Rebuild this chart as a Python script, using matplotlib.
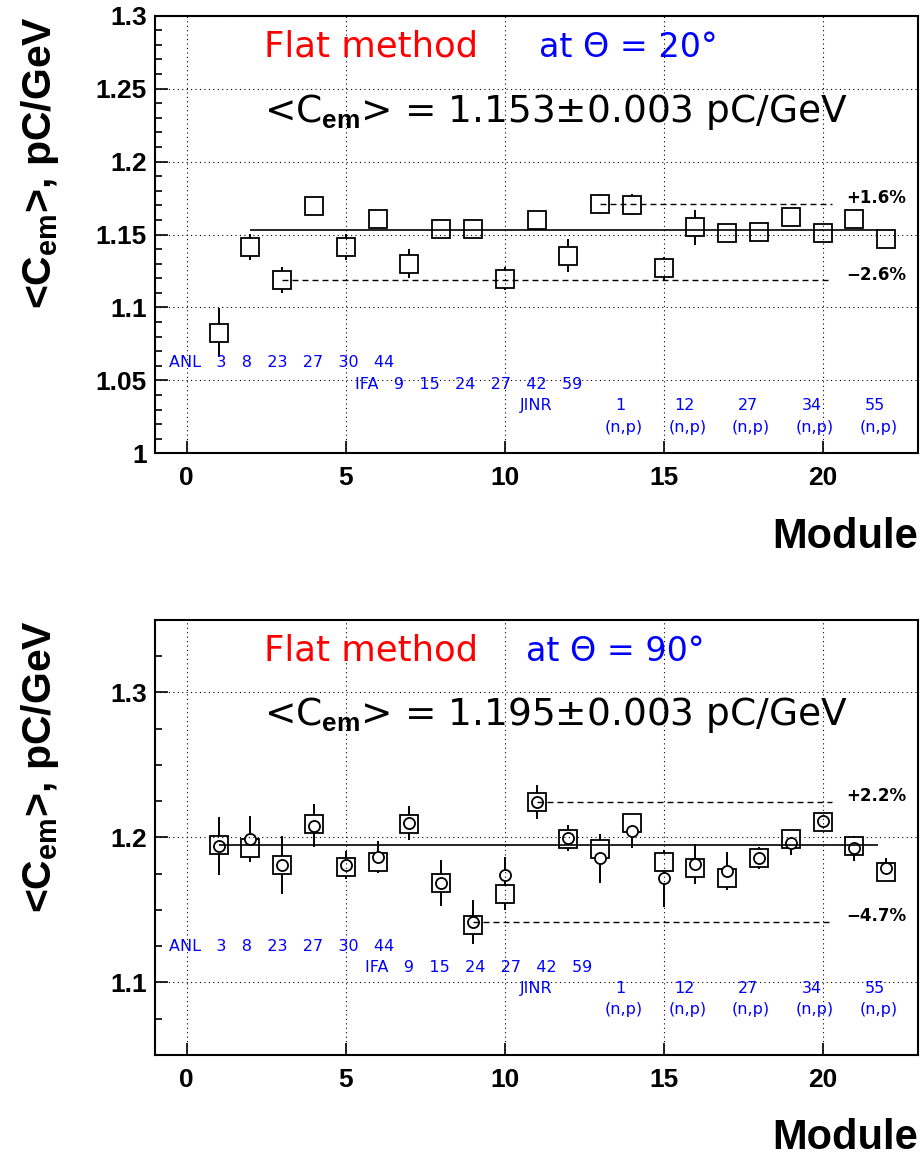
import numpy as np
import matplotlib
matplotlib.use("Agg")
import matplotlib.pyplot as plt
from matplotlib.ticker import MultipleLocator, FuncFormatter

plt.rcParams["font.family"] = "Liberation Sans"
plt.rcParams["font.weight"] = "bold"
plt.rcParams["mathtext.fontset"] = "custom"
plt.rcParams["mathtext.rm"] = "Liberation Sans"
plt.rcParams["mathtext.bf"] = "Liberation Sans:bold"

modules = np.arange(1, 23)

# Theta = 20 deg, flat method
cem20 = [1.0827, 1.1416, 1.1187, 1.1697, 1.1416, 1.1607, 1.1299, 1.1536,
         1.1536, 1.1197, 1.1596, 1.1356, 1.1710, 1.1705, 1.1267, 1.1548,
         1.1507, 1.1516, 1.1619, 1.1507, 1.1607, 1.1466]
cem20_err = [0.017, 0.009, 0.009, 0.004, 0.009, 0.0055, 0.010, 0.003,
             0.003, 0.008, 0.004, 0.011, 0.007, 0.007, 0.008, 0.0118,
             0.004, 0.004, 0.004, 0.004, 0.004, 0.004]
mean20 = 1.153
fit20 = (2, 21.75)
pct20 = ["+1.6%", "\u22122.6%"]

# Theta = 90 deg, flat method (squares and circles)
cem90_sq = [1.1947, 1.1928, 1.1809, 1.2090, 1.1797, 1.1828, 1.2092, 1.1687,
            1.1397, 1.1609, 1.2241, 1.1988, 1.1917, 1.2101, 1.1830, 1.1790,
            1.1717, 1.1859, 1.1988, 1.2103, 1.1940, 1.1759]
cem90_sq_err = [0.004, 0.004, 0.004, 0.004, 0.004, 0.004, 0.004, 0.004,
                0.004, 0.011, 0.004, 0.004, 0.004, 0.004, 0.004, 0.004,
                0.004, 0.004, 0.004, 0.004, 0.004, 0.004]
cem90_ci = [1.1942, 1.1988, 1.1809, 1.2080, 1.1809, 1.1866, 1.2101, 1.1687,
            1.1416, 1.1740, 1.2246, 1.1993, 1.1855, 1.2043, 1.1717, 1.1814,
            1.1770, 1.1859, 1.1963, 1.2112, 1.1924, 1.1790]
cem90_ci_err = [0.0199, 0.0159, 0.0198, 0.0150, 0.0099, 0.0110, 0.0117, 0.0159,
                0.0155, 0.0125, 0.0117, 0.0090, 0.0169, 0.0114, 0.0195, 0.0138,
                0.0130, 0.0076, 0.0088, 0.0040, 0.0088, 0.0070]
mean90 = 1.195
fit90 = (1, 21.75)
pct90 = ["+2.2%", "\u22124.7%"]

anl_ids = ["3", "8", "23", "27", "30", "44"]
ifa_ids = ["9", "15", "24", "27", "42", "59"]
jinr_ids = ["1", "12", "27", "34", "55"]

RED = "#ff0000"
BLUE = "#0000ff"


def setup_axes(ax, ylo, yhi, major, minor):
    ax.set_xlim(-1, 23)
    ax.set_ylim(ylo, yhi)
    ax.xaxis.set_major_locator(MultipleLocator(5))
    ax.yaxis.set_major_locator(MultipleLocator(major))
    ax.yaxis.set_minor_locator(MultipleLocator(minor))
    ax.yaxis.set_major_formatter(FuncFormatter(lambda v, p: f"{v:g}"))
    ax.tick_params(which="both", direction="in", top=False, right=False, width=1.2)
    ax.tick_params(which="major", length=9)
    ax.tick_params(which="minor", length=5)
    ax.tick_params(axis="x", pad=9.5, labelsize=19)
    ax.tick_params(axis="y", pad=6, labelsize=19)
    for s in ax.spines.values():
        s.set_linewidth(1.5)
    ax.set_axisbelow(False)
    ax.grid(True, which="major", linestyle=(0, (1, 3)), color="black", lw=0.8)


def draw_frame_text(ax, theta_txt, theta_x, mean_txt):
    ax.text(0.143, 0.906, "Flat method", transform=ax.transAxes, color=RED,
            fontsize=25.5, family="DejaVu Sans", weight="normal")
    ax.text(theta_x, 0.906, theta_txt, transform=ax.transAxes, color=BLUE,
            fontsize=24, family="DejaVu Sans", weight="normal")
    ax.text(0.143, 0.758, r"<C$_{\mathbf{em}}$> = " + mean_txt, transform=ax.transAxes,
            color="black", fontsize=27, family="DejaVu Sans", weight="normal")
    ax.text(-0.1507, 1.0, r"<C$_{\mathbf{em}}$>, pC/GeV", transform=ax.transAxes,
            rotation=90, ha="center", va="top", fontsize=29.5, weight="bold")
    ax.text(1.0, -0.2164, "Module", transform=ax.transAxes, ha="right",
            va="baseline", fontsize=30, weight="bold")


def draw_labels(ax, y0, step, ifa_x):
    kw = dict(color=BLUE, fontsize=11.5, family="DejaVu Sans", weight="normal", va="center")
    ax.text(-0.57, y0, "   ".join(["ANL"] + anl_ids), ha="left", **kw)
    ax.text(ifa_x, y0 - step, "   ".join(["IFA"] + ifa_ids), ha="left", **kw)
    ax.text(11.0, y0 - 2 * step, "JINR", ha="center", **kw)
    pair_x = modules[12::2] + 0.65
    for x, lab in zip(pair_x, jinr_ids):
        ax.text(x, y0 - 2 * step, lab, ha="center", **kw)
        ax.text(x + 0.1, y0 - 3 * step, "(n,p)", ha="center", **kw)


def draw_spread(ax, vals, fit, pcts):
    vals = np.asarray(vals)
    inside = modules >= fit[0]
    hi_i = np.argmax(np.where(inside, vals, -np.inf))
    lo_i = np.argmin(np.where(inside, vals, np.inf))
    for i, lab in zip([hi_i, lo_i], pcts):
        ax.hlines(vals[i], modules[i], 20.3, colors="black", lw=1.0,
                  linestyles=(0, (4.3, 2.9)), zorder=3)
        ax.annotate(lab, xy=(20.75, vals[i]), xytext=(0, 4), textcoords="offset points",
                    ha="left", va="center", fontsize=12, family="DejaVu Sans", weight="bold")


fig = plt.figure(figsize=(9.23, 11.57), dpi=100)
ax1 = fig.add_axes([155 / 923, 1 - 453.3 / 1157, 763 / 923, 437.6 / 1157])
ax2 = fig.add_axes([155 / 923, 1 - 1054.8 / 1157, 763 / 923, 435 / 1157])

# top panel, 20 deg
setup_axes(ax1, 1.0, 1.3, 0.05, 0.01)
ax1.errorbar(modules, cem20, yerr=cem20_err, fmt="none", ecolor="black",
             elinewidth=1.4, capsize=0, zorder=1)
ax1.plot(modules, cem20, "s", ms=12.5, mfc="white", mec="black", mew=1.3, zorder=2)
ax1.hlines(mean20, fit20[0], fit20[1], colors="black", lw=1.2, zorder=3)
draw_spread(ax1, cem20, fit20, pct20)
draw_frame_text(ax1, "at \u0398 = 20\u00b0", 0.503, "1.153\u00b10.003 pC/GeV")
draw_labels(ax1, 1.062, 0.0147, 5.28)

# bottom panel, 90 deg
setup_axes(ax2, 1.05, 1.35, 0.1, 0.025)
ax2.errorbar(modules, cem90_ci, yerr=cem90_ci_err, fmt="none", ecolor="black",
             elinewidth=1.4, capsize=0, zorder=1)
ax2.errorbar(modules, cem90_sq, yerr=cem90_sq_err, fmt="none", ecolor="black",
             elinewidth=1.4, capsize=0, zorder=1)
ax2.plot(modules, cem90_sq, "s", ms=12.5, mfc="white", mec="black", mew=1.3, zorder=2)
ax2.plot(modules, cem90_ci, "o", ms=8, mfc="white", mec="black", mew=1.3, zorder=2.1)
ax2.hlines(mean90, fit90[0], fit90[1], colors="black", lw=1.2, zorder=3)
draw_spread(ax2, cem90_ci, fit90, pct90)
draw_frame_text(ax2, "at \u0398 = 90\u00b0", 0.4856, "1.195\u00b10.003 pC/GeV")
draw_labels(ax2, 1.1246, 0.0145, 5.62)

fig.savefig("out.png", dpi=100)
